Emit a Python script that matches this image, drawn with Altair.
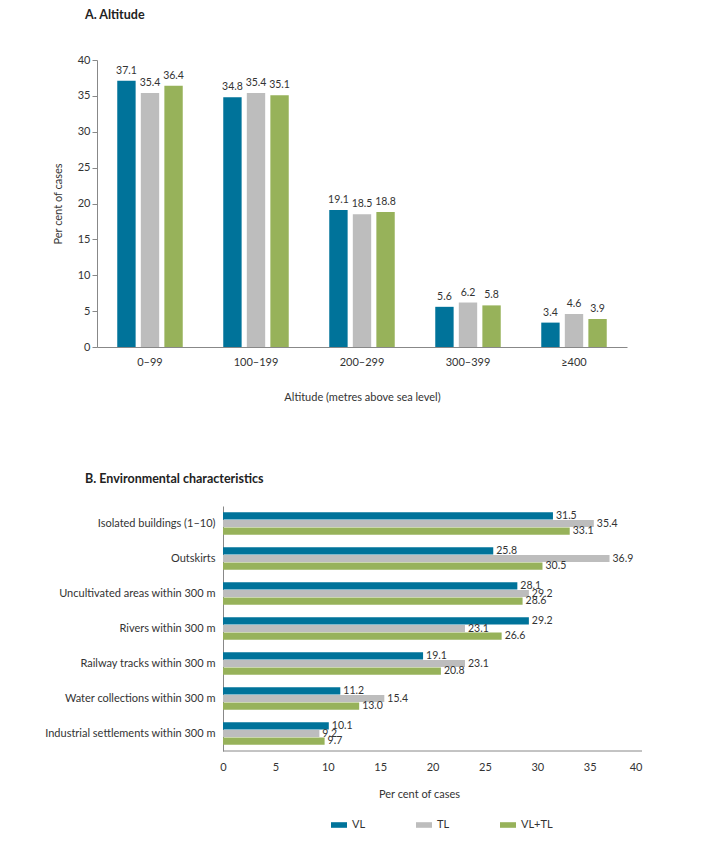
import altair as alt
import pandas as pd

series = ["VL", "TL", "VL+TL"]
colors = ["#00739A", "#BDBDBD", "#97B25A"]

altitude = ["0–99", "100–199", "200–299", "300–399", "≥400"]
vl_alt = [37.1, 34.8, 19.1, 5.6, 3.4]
tl_alt = [35.4, 35.4, 18.5, 6.2, 4.6]
both_alt = [36.4, 35.1, 18.8, 5.8, 3.9]

env = [
    "Isolated buildings (1–10)",
    "Outskirts",
    "Uncultivated areas within 300 m",
    "Rivers within 300 m",
    "Railway tracks within 300 m",
    "Water collections within 300 m",
    "Industrial settlements within 300 m",
]
vl_env = [31.5, 25.8, 28.1, 29.2, 19.1, 11.2, 10.1]
tl_env = [35.4, 36.9, 29.2, 23.1, 23.1, 15.4, 9.2]
both_env = [33.1, 30.5, 28.6, 26.6, 20.8, 13.0, 9.7]

FONT = "Lato"
TXT = "#333333"
AXIS = "#888888"

# layout (pixels)
W_A, H_A = 530, 287
SHIFT_B = 126          # bottom plot starts this far right of the top plot
W_B, H_B = 419, 245
X_MIN_B = -40 * SHIFT_B / W_B


def long_table(cats, lists):
    rows = []
    for i, c in enumerate(cats):
        for s, vals in zip(series, lists):
            rows.append({"cat": c, "series": s, "value": vals[i]})
    return pd.DataFrame(rows)


df_a = long_table(altitude, [vl_alt, tl_alt, both_alt])
df_b = long_table(env, [vl_env, tl_env, both_env])

color_scale = alt.Scale(domain=series, range=colors)

base_a = alt.Chart(df_a).encode(
    x=alt.X(
        "cat:N",
        sort=altitude,
        scale=alt.Scale(paddingInner=0, paddingOuter=0),
        axis=alt.Axis(
            title="Altitude (metres above sea level)",
            labelAngle=0,
            ticks=False,
            labelPadding=9,
            titlePadding=24,
        ),
    ),
    xOffset=alt.XOffset(
        "series:N", sort=series, scale=alt.Scale(paddingInner=0.22, paddingOuter=0.86)
    ),
    y=alt.Y(
        "value:Q",
        scale=alt.Scale(domain=[0, 40]),
        axis=alt.Axis(
            values=[0, 5, 10, 15, 20, 25, 30, 35, 40],
            title="Per cent of cases",
            grid=False,
            tickSize=5,
            titlePadding=14,
        ),
    ),
)
bars_a = base_a.mark_bar().encode(
    color=alt.Color("series:N", sort=series, scale=color_scale, legend=None)
)
text_a = base_a.mark_text(
    baseline="bottom", dy=-5, fontSize=10.5, color=TXT, font=FONT
).encode(text=alt.Text("value:Q", format=".1f"))

chart_a = (bars_a + text_a).properties(
    width=W_A,
    height=H_A,
    title=alt.TitleParams(
        "A. Altitude",
        anchor="start",
        frame="group",
        dx=-12,
        fontSize=12.5,
        fontWeight="bold",
        offset=33,
        color="#222222",
        font=FONT,
    ),
)

base_b = alt.Chart(df_b).encode(
    y=alt.Y(
        "cat:N",
        sort=env,
        scale=alt.Scale(paddingInner=0, paddingOuter=0),
        axis=alt.Axis(
            title=None, ticks=False, labelPadding=8, labelLimit=400, offset=-SHIFT_B
        ),
    ),
    yOffset=alt.YOffset(
        "series:N", sort=series, scale=alt.Scale(paddingInner=0.07, paddingOuter=0.81)
    ),
    x=alt.X(
        "value:Q",
        scale=alt.Scale(domain=[X_MIN_B, 40], nice=False, zero=False),
        axis=alt.Axis(
            values=[0, 5, 10, 15, 20, 25, 30, 35, 40],
            title="Per cent of cases",
            titleX=322,
            grid=False,
            ticks=False,
            domain=False,
            labelPadding=10,
            titlePadding=16,
        ),
    ),
)
bars_b = base_b.mark_bar().encode(
    color=alt.Color(
        "series:N",
        sort=series,
        scale=color_scale,
        legend=alt.Legend(
            title=None,
            orient="none",
            direction="horizontal",
            legendX=SHIFT_B + 108,
            legendY=H_B + 66,
            symbolType="M-1,-0.35H1V0.35H-1Z",
            symbolSize=256,
            symbolStrokeWidth=0,
            labelFontSize=11,
            labelFont=FONT,
            labelColor=TXT,
            columnPadding=50,
            labelOffset=5,
        ),
    )
)
text_b = base_b.mark_text(
    align="left", baseline="middle", dx=3, fontSize=10.5, color=TXT, font=FONT
).encode(text=alt.Text("value:Q", format=".1f"))

axis_line_b = (
    alt.Chart(pd.DataFrame({"a": [0], "b": [40]}))
    .mark_rule(color=AXIS, strokeWidth=1)
    .encode(x="a:Q", x2="b:Q", y=alt.value(H_B))
)

chart_b = (bars_b + text_b + axis_line_b).properties(
    width=SHIFT_B + W_B,
    height=H_B,
    title=alt.TitleParams(
        "B. Environmental characteristics",
        anchor="start",
        frame="group",
        dx=-12,
        fontSize=12.5,
        fontWeight="bold",
        offset=21,
        color="#222222",
        font=FONT,
    ),
)

chart = (
    alt.vconcat(chart_a, chart_b, spacing=70)
    .resolve_scale(color="independent")
    .resolve_legend(color="independent")
    .properties(padding={"left": 36, "top": 0, "right": 5, "bottom": 5})
    .configure_view(stroke=None)
    .configure_axis(
        domainColor=AXIS,
        tickColor=AXIS,
        labelColor=TXT,
        titleColor=TXT,
        labelFont=FONT,
        titleFont=FONT,
        labelFontSize=11,
        titleFontSize=11,
        titleFontWeight="normal",
    )
)

chart.save("out.html", embed_options={"renderer": "svg", "actions": False})
